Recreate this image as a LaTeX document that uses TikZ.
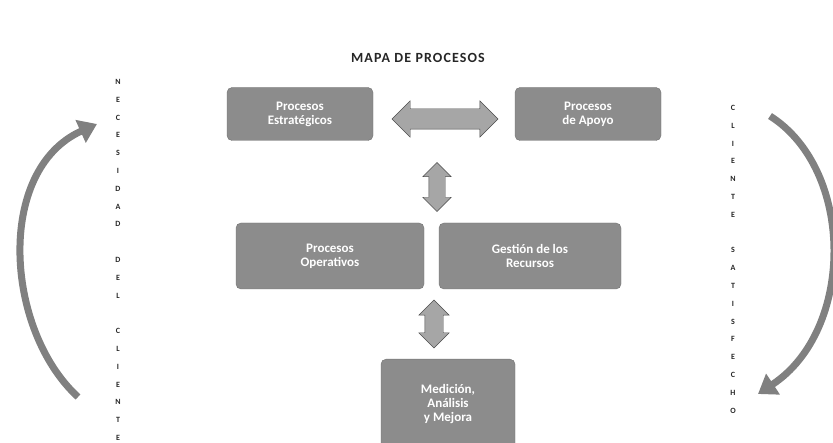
\documentclass[tikz,border=0pt]{standalone}
\usepackage{fontspec}
\setmainfont{Carlito}
\usetikzlibrary{shapes.arrows,arrows.meta}
\tikzset{
  procbox/.style={draw=black!55, fill=black!45, rounded corners=5pt, text=white, font=\fontsize{13}{14}\selectfont\bfseries, align=center, inner sep=2pt, minimum height=53pt},
  dblarrow/.style={double arrow, draw=black!70, fill=black!35, inner xsep=0pt},
  sideletter/.style={font=\fontsize{8}{8}\selectfont\bfseries, text=black!85, inner sep=0pt},
  cyclearrow/.style={line width=7pt, draw=black!50, -{Triangle[length=18pt,width=24pt]}},
}
\begin{document}
\begin{tikzpicture}[x=1pt,y=-1pt]
\useasboundingbox (0,0) rectangle (833,443);
\node[font=\fontsize{14}{15}\selectfont\bfseries\addfontfeatures{LetterSpace=8}, text=black!85] (title) at (418,58) {MAPA DE PROCESOS};

\node[procbox, minimum width=146pt] (tl) at (300,114) {Procesos\\Estratégicos};
\node[procbox, minimum width=146pt] (tr) at (588,114) {Procesos\\de Apoyo};
\node[procbox, minimum width=188pt, minimum height=66pt] (ml) at (330,256) {Procesos\\Operativos};
\node[procbox, minimum width=182pt, minimum height=66pt] (mr) at (530,256) {Gestión de los\\Recursos};
\node[procbox, minimum width=134pt, minimum height=90pt, anchor=north] (bt) at (448,359) {Medición,\\Análisis\\y Mejora};

\node[dblarrow, minimum height=106pt, inner ysep=10pt, double arrow head extend=8pt] (ha) at (445,119) {};
\node[dblarrow, rotate=90, minimum height=49pt, inner ysep=8pt, double arrow head extend=6pt] (va) at (437,187) {};
\node[dblarrow, rotate=90, minimum height=48pt, inner ysep=9pt, double arrow head extend=6pt] (vb) at (434,324) {};

\foreach \ch [count=\i from 0] in {N,E,C,E,S,I,D,A,D,{},D,E,L,{},C,L,I,E,N,T,E}
  \node[sideletter] (l\i) at (118,{82+17.8*\i}) {\ch};
\foreach \ch [count=\i from 0] in {C,L,I,E,N,T,E,{},S,A,T,I,S,F,E,C,H,O}
  \node[sideletter] (r\i) at (733,{108+17.8*\i}) {\ch};

\coordinate (lb) at (78,397);
\coordinate (lt) at (97,124);
\draw[cyclearrow] (lb) .. controls (5,330) and (-5,170) .. (lt);
\coordinate (rt) at (770,116);
\coordinate (rb) at (758,394);
\draw[cyclearrow] (rt) .. controls (855,170) and (855,330) .. (rb);
\end{tikzpicture}
\end{document}
